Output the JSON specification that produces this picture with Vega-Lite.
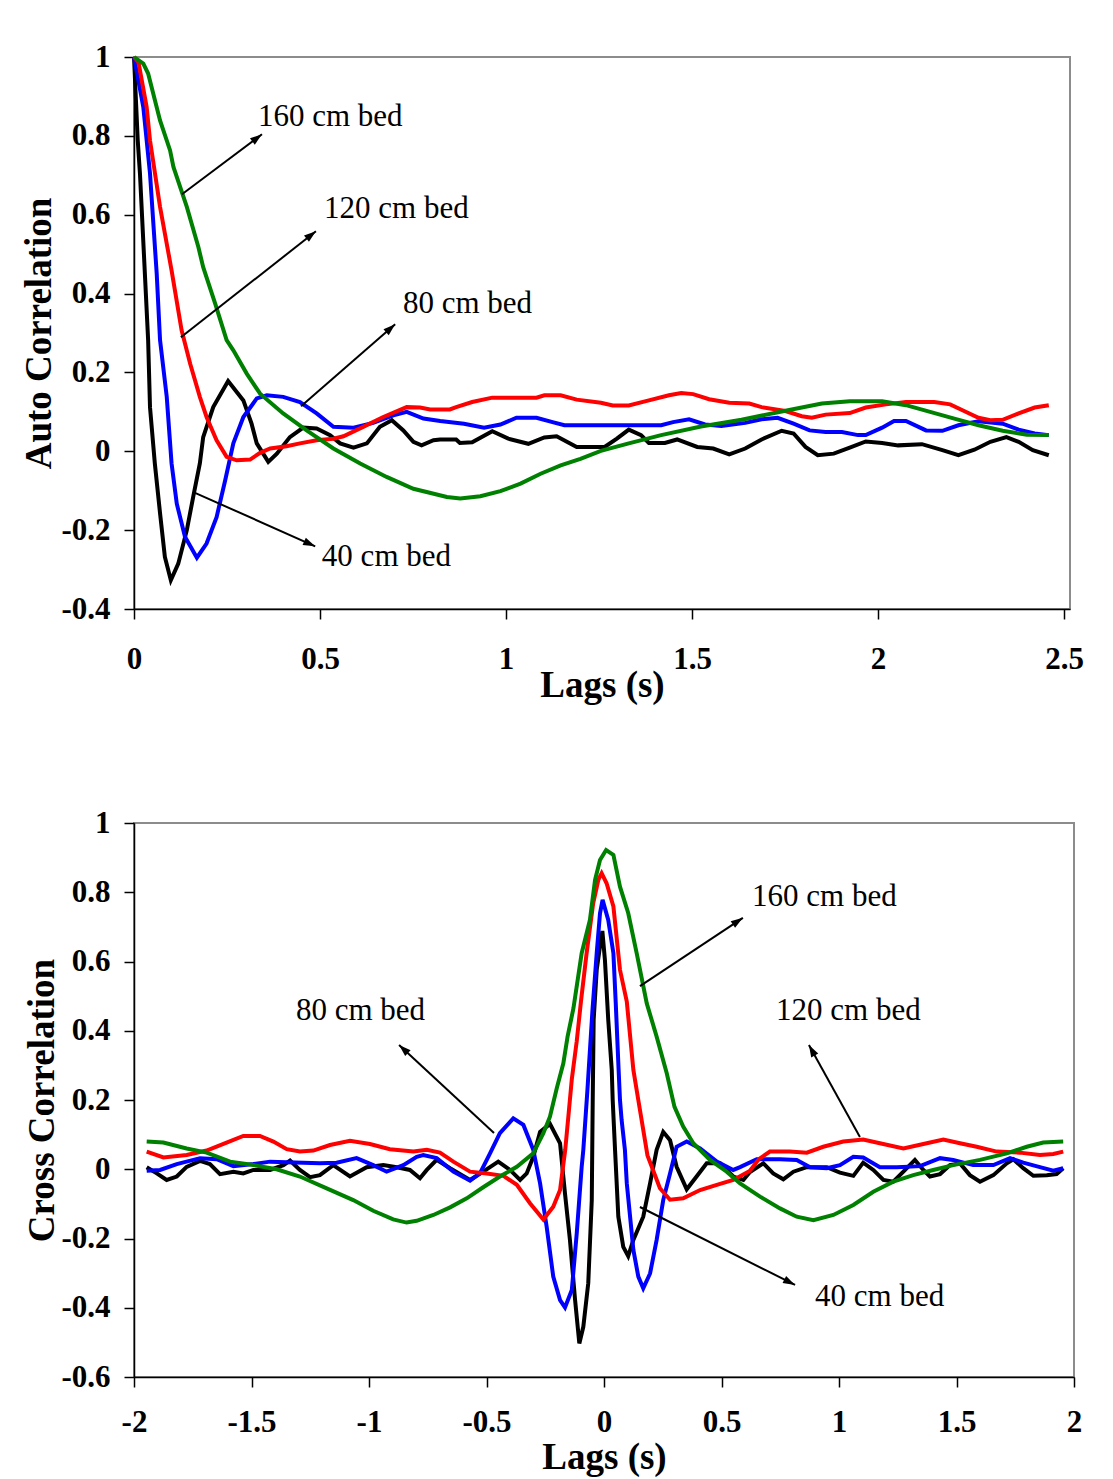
{
  "$schema": "https://vega.github.io/schema/vega-lite/v6.json",
  "background": "white",
  "padding": {"left": 19, "top": 40, "right": 5, "bottom": 2},
  "config": {
    "view": {"stroke": "#8c8c8c", "strokeWidth": 2},
    "axis": {
      "labelFont": "Liberation Serif", "labelFontWeight": "bold", "labelFontSize": 31, "labelColor": "black",
      "titleFont": "Liberation Serif", "titleFontWeight": "bold", "titleFontSize": 37, "titleColor": "black",
      "domainColor": "black", "domainWidth": 1.5, "tickColor": "black", "tickWidth": 1.5, "tickSize": 10, "grid": false,
      "labelOverlap": false, "labelFlush": false
    }
  },
  "datasets": {
    "top": [
      {"bed":"40 cm bed","lag":0,"r":1},{"bed":"40 cm bed","lag":0.010,"r":0.789},{"bed":"40 cm bed","lag":0.016,"r":0.705},{"bed":"40 cm bed","lag":0.038,"r":0.282},{"bed":"40 cm bed","lag":0.043,"r":0.112},{"bed":"40 cm bed","lag":0.056,"r":-0.031},{"bed":"40 cm bed","lag":0.070,"r":-0.157},{"bed":"40 cm bed","lag":0.083,"r":-0.268},{"bed":"40 cm bed","lag":0.099,"r":-0.327},{"bed":"40 cm bed","lag":0.119,"r":-0.285},{"bed":"40 cm bed","lag":0.142,"r":-0.200},{"bed":"40 cm bed","lag":0.159,"r":-0.116},{"bed":"40 cm bed","lag":0.177,"r":-0.031},{"bed":"40 cm bed","lag":0.186,"r":0.036},{"bed":"40 cm bed","lag":0.213,"r":0.112},{"bed":"40 cm bed","lag":0.253,"r":0.178},{"bed":"40 cm bed","lag":0.294,"r":0.129},{"bed":"40 cm bed","lag":0.316,"r":0.070},{"bed":"40 cm bed","lag":0.330,"r":0.020},{"bed":"40 cm bed","lag":0.361,"r":-0.027},{"bed":"40 cm bed","lag":0.384,"r":-0.006},{"bed":"40 cm bed","lag":0.419,"r":0.036},{"bed":"40 cm bed","lag":0.455,"r":0.060},{"bed":"40 cm bed","lag":0.491,"r":0.058},{"bed":"40 cm bed","lag":0.527,"r":0.041},{"bed":"40 cm bed","lag":0.554,"r":0.020},{"bed":"40 cm bed","lag":0.590,"r":0.009},{"bed":"40 cm bed","lag":0.626,"r":0.020},{"bed":"40 cm bed","lag":0.661,"r":0.062},{"bed":"40 cm bed","lag":0.693,"r":0.079},{"bed":"40 cm bed","lag":0.724,"r":0.053},{"bed":"40 cm bed","lag":0.751,"r":0.024},{"bed":"40 cm bed","lag":0.773,"r":0.015},{"bed":"40 cm bed","lag":0.805,"r":0.028},{"bed":"40 cm bed","lag":0.823,"r":0.030},{"bed":"40 cm bed","lag":0.866,"r":0.030},{"bed":"40 cm bed","lag":0.876,"r":0.021},{"bed":"40 cm bed","lag":0.909,"r":0.023},{"bed":"40 cm bed","lag":0.963,"r":0.051},{"bed":"40 cm bed","lag":1.006,"r":0.032},{"bed":"40 cm bed","lag":1.060,"r":0.019},{"bed":"40 cm bed","lag":1.103,"r":0.035},{"bed":"40 cm bed","lag":1.136,"r":0.038},{"bed":"40 cm bed","lag":1.190,"r":0.011},{"bed":"40 cm bed","lag":1.265,"r":0.011},{"bed":"40 cm bed","lag":1.298,"r":0.032},{"bed":"40 cm bed","lag":1.330,"r":0.055},{"bed":"40 cm bed","lag":1.363,"r":0.041},{"bed":"40 cm bed","lag":1.384,"r":0.021},{"bed":"40 cm bed","lag":1.427,"r":0.021},{"bed":"40 cm bed","lag":1.460,"r":0.030},{"bed":"40 cm bed","lag":1.514,"r":0.011},{"bed":"40 cm bed","lag":1.557,"r":0.007},{"bed":"40 cm bed","lag":1.600,"r":-0.008},{"bed":"40 cm bed","lag":1.643,"r":0.007},{"bed":"40 cm bed","lag":1.687,"r":0.030},{"bed":"40 cm bed","lag":1.741,"r":0.052},{"bed":"40 cm bed","lag":1.773,"r":0.045},{"bed":"40 cm bed","lag":1.805,"r":0.011},{"bed":"40 cm bed","lag":1.838,"r":-0.010},{"bed":"40 cm bed","lag":1.881,"r":-0.006},{"bed":"40 cm bed","lag":1.924,"r":0.009},{"bed":"40 cm bed","lag":1.967,"r":0.025},{"bed":"40 cm bed","lag":2.011,"r":0.021},{"bed":"40 cm bed","lag":2.054,"r":0.015},{"bed":"40 cm bed","lag":2.118,"r":0.018},{"bed":"40 cm bed","lag":2.173,"r":0.003},{"bed":"40 cm bed","lag":2.216,"r":-0.010},{"bed":"40 cm bed","lag":2.259,"r":0.004},{"bed":"40 cm bed","lag":2.302,"r":0.024},{"bed":"40 cm bed","lag":2.345,"r":0.036},{"bed":"40 cm bed","lag":2.378,"r":0.024},{"bed":"40 cm bed","lag":2.416,"r":0.003},{"bed":"40 cm bed","lag":2.459,"r":-0.010},
      {"bed":"80 cm bed","lag":0,"r":1},{"bed":"80 cm bed","lag":0.025,"r":0.873},{"bed":"80 cm bed","lag":0.043,"r":0.705},{"bed":"80 cm bed","lag":0.061,"r":0.451},{"bed":"80 cm bed","lag":0.070,"r":0.282},{"bed":"80 cm bed","lag":0.088,"r":0.138},{"bed":"80 cm bed","lag":0.101,"r":-0.031},{"bed":"80 cm bed","lag":0.115,"r":-0.133},{"bed":"80 cm bed","lag":0.137,"r":-0.217},{"bed":"80 cm bed","lag":0.169,"r":-0.270},{"bed":"80 cm bed","lag":0.195,"r":-0.234},{"bed":"80 cm bed","lag":0.222,"r":-0.167},{"bed":"80 cm bed","lag":0.245,"r":-0.074},{"bed":"80 cm bed","lag":0.267,"r":0.020},{"bed":"80 cm bed","lag":0.294,"r":0.087},{"bed":"80 cm bed","lag":0.330,"r":0.134},{"bed":"80 cm bed","lag":0.357,"r":0.142},{"bed":"80 cm bed","lag":0.401,"r":0.138},{"bed":"80 cm bed","lag":0.446,"r":0.125},{"bed":"80 cm bed","lag":0.491,"r":0.096},{"bed":"80 cm bed","lag":0.536,"r":0.062},{"bed":"80 cm bed","lag":0.590,"r":0.060},{"bed":"80 cm bed","lag":0.643,"r":0.072},{"bed":"80 cm bed","lag":0.697,"r":0.091},{"bed":"80 cm bed","lag":0.733,"r":0.100},{"bed":"80 cm bed","lag":0.778,"r":0.083},{"bed":"80 cm bed","lag":0.823,"r":0.077},{"bed":"80 cm bed","lag":0.887,"r":0.070},{"bed":"80 cm bed","lag":0.941,"r":0.060},{"bed":"80 cm bed","lag":0.985,"r":0.068},{"bed":"80 cm bed","lag":1.028,"r":0.085},{"bed":"80 cm bed","lag":1.082,"r":0.085},{"bed":"80 cm bed","lag":1.125,"r":0.074},{"bed":"80 cm bed","lag":1.157,"r":0.066},{"bed":"80 cm bed","lag":1.309,"r":0.066},{"bed":"80 cm bed","lag":1.417,"r":0.066},{"bed":"80 cm bed","lag":1.449,"r":0.074},{"bed":"80 cm bed","lag":1.492,"r":0.081},{"bed":"80 cm bed","lag":1.535,"r":0.068},{"bed":"80 cm bed","lag":1.579,"r":0.064},{"bed":"80 cm bed","lag":1.643,"r":0.072},{"bed":"80 cm bed","lag":1.687,"r":0.081},{"bed":"80 cm bed","lag":1.730,"r":0.085},{"bed":"80 cm bed","lag":1.773,"r":0.070},{"bed":"80 cm bed","lag":1.816,"r":0.053},{"bed":"80 cm bed","lag":1.859,"r":0.049},{"bed":"80 cm bed","lag":1.903,"r":0.049},{"bed":"80 cm bed","lag":1.946,"r":0.041},{"bed":"80 cm bed","lag":1.967,"r":0.041},{"bed":"80 cm bed","lag":2.011,"r":0.060},{"bed":"80 cm bed","lag":2.043,"r":0.077},{"bed":"80 cm bed","lag":2.075,"r":0.077},{"bed":"80 cm bed","lag":2.129,"r":0.053},{"bed":"80 cm bed","lag":2.173,"r":0.052},{"bed":"80 cm bed","lag":2.216,"r":0.066},{"bed":"80 cm bed","lag":2.270,"r":0.076},{"bed":"80 cm bed","lag":2.335,"r":0.070},{"bed":"80 cm bed","lag":2.378,"r":0.055},{"bed":"80 cm bed","lag":2.421,"r":0.045},{"bed":"80 cm bed","lag":2.459,"r":0.041},
      {"bed":"120 cm bed","lag":0,"r":1},{"bed":"120 cm bed","lag":0.012,"r":0.987},{"bed":"120 cm bed","lag":0.034,"r":0.873},{"bed":"120 cm bed","lag":0.043,"r":0.789},{"bed":"120 cm bed","lag":0.070,"r":0.620},{"bed":"120 cm bed","lag":0.101,"r":0.459},{"bed":"120 cm bed","lag":0.128,"r":0.307},{"bed":"120 cm bed","lag":0.151,"r":0.222},{"bed":"120 cm bed","lag":0.177,"r":0.138},{"bed":"120 cm bed","lag":0.195,"r":0.087},{"bed":"120 cm bed","lag":0.222,"r":0.028},{"bed":"120 cm bed","lag":0.249,"r":-0.014},{"bed":"120 cm bed","lag":0.276,"r":-0.023},{"bed":"120 cm bed","lag":0.312,"r":-0.021},{"bed":"120 cm bed","lag":0.339,"r":-0.004},{"bed":"120 cm bed","lag":0.366,"r":0.007},{"bed":"120 cm bed","lag":0.410,"r":0.013},{"bed":"120 cm bed","lag":0.446,"r":0.020},{"bed":"120 cm bed","lag":0.491,"r":0.028},{"bed":"120 cm bed","lag":0.536,"r":0.032},{"bed":"120 cm bed","lag":0.563,"r":0.038},{"bed":"120 cm bed","lag":0.616,"r":0.062},{"bed":"120 cm bed","lag":0.670,"r":0.087},{"bed":"120 cm bed","lag":0.733,"r":0.112},{"bed":"120 cm bed","lag":0.769,"r":0.111},{"bed":"120 cm bed","lag":0.796,"r":0.106},{"bed":"120 cm bed","lag":0.849,"r":0.106},{"bed":"120 cm bed","lag":0.866,"r":0.112},{"bed":"120 cm bed","lag":0.909,"r":0.125},{"bed":"120 cm bed","lag":0.963,"r":0.136},{"bed":"120 cm bed","lag":1.082,"r":0.136},{"bed":"120 cm bed","lag":1.103,"r":0.142},{"bed":"120 cm bed","lag":1.147,"r":0.142},{"bed":"120 cm bed","lag":1.190,"r":0.131},{"bed":"120 cm bed","lag":1.255,"r":0.123},{"bed":"120 cm bed","lag":1.287,"r":0.116},{"bed":"120 cm bed","lag":1.330,"r":0.116},{"bed":"120 cm bed","lag":1.384,"r":0.129},{"bed":"120 cm bed","lag":1.438,"r":0.142},{"bed":"120 cm bed","lag":1.471,"r":0.148},{"bed":"120 cm bed","lag":1.503,"r":0.145},{"bed":"120 cm bed","lag":1.546,"r":0.132},{"bed":"120 cm bed","lag":1.600,"r":0.123},{"bed":"120 cm bed","lag":1.654,"r":0.121},{"bed":"120 cm bed","lag":1.687,"r":0.112},{"bed":"120 cm bed","lag":1.751,"r":0.102},{"bed":"120 cm bed","lag":1.795,"r":0.089},{"bed":"120 cm bed","lag":1.822,"r":0.085},{"bed":"120 cm bed","lag":1.859,"r":0.093},{"bed":"120 cm bed","lag":1.924,"r":0.097},{"bed":"120 cm bed","lag":1.967,"r":0.111},{"bed":"120 cm bed","lag":2.021,"r":0.119},{"bed":"120 cm bed","lag":2.075,"r":0.125},{"bed":"120 cm bed","lag":2.151,"r":0.125},{"bed":"120 cm bed","lag":2.194,"r":0.119},{"bed":"120 cm bed","lag":2.227,"r":0.104},{"bed":"120 cm bed","lag":2.270,"r":0.085},{"bed":"120 cm bed","lag":2.302,"r":0.079},{"bed":"120 cm bed","lag":2.335,"r":0.080},{"bed":"120 cm bed","lag":2.378,"r":0.096},{"bed":"120 cm bed","lag":2.421,"r":0.111},{"bed":"120 cm bed","lag":2.459,"r":0.117},
      {"bed":"160 cm bed","lag":0,"r":1},{"bed":"160 cm bed","lag":0.025,"r":0.983},{"bed":"160 cm bed","lag":0.038,"r":0.958},{"bed":"160 cm bed","lag":0.070,"r":0.839},{"bed":"160 cm bed","lag":0.097,"r":0.763},{"bed":"160 cm bed","lag":0.106,"r":0.721},{"bed":"160 cm bed","lag":0.142,"r":0.620},{"bed":"160 cm bed","lag":0.173,"r":0.518},{"bed":"160 cm bed","lag":0.186,"r":0.467},{"bed":"160 cm bed","lag":0.218,"r":0.375},{"bed":"160 cm bed","lag":0.249,"r":0.282},{"bed":"160 cm bed","lag":0.267,"r":0.256},{"bed":"160 cm bed","lag":0.303,"r":0.197},{"bed":"160 cm bed","lag":0.339,"r":0.146},{"bed":"160 cm bed","lag":0.401,"r":0.096},{"bed":"160 cm bed","lag":0.464,"r":0.053},{"bed":"160 cm bed","lag":0.536,"r":0.007},{"bed":"160 cm bed","lag":0.608,"r":-0.031},{"bed":"160 cm bed","lag":0.679,"r":-0.065},{"bed":"160 cm bed","lag":0.751,"r":-0.095},{"bed":"160 cm bed","lag":0.841,"r":-0.116},{"bed":"160 cm bed","lag":0.877,"r":-0.120},{"bed":"160 cm bed","lag":0.931,"r":-0.114},{"bed":"160 cm bed","lag":0.985,"r":-0.101},{"bed":"160 cm bed","lag":1.039,"r":-0.082},{"bed":"160 cm bed","lag":1.093,"r":-0.057},{"bed":"160 cm bed","lag":1.147,"r":-0.036},{"bed":"160 cm bed","lag":1.200,"r":-0.019},{"bed":"160 cm bed","lag":1.255,"r":0.001},{"bed":"160 cm bed","lag":1.330,"r":0.020},{"bed":"160 cm bed","lag":1.417,"r":0.041},{"bed":"160 cm bed","lag":1.524,"r":0.063},{"bed":"160 cm bed","lag":1.633,"r":0.080},{"bed":"160 cm bed","lag":1.741,"r":0.101},{"bed":"160 cm bed","lag":1.849,"r":0.121},{"bed":"160 cm bed","lag":1.924,"r":0.127},{"bed":"160 cm bed","lag":2.011,"r":0.127},{"bed":"160 cm bed","lag":2.075,"r":0.117},{"bed":"160 cm bed","lag":2.140,"r":0.100},{"bed":"160 cm bed","lag":2.205,"r":0.083},{"bed":"160 cm bed","lag":2.270,"r":0.066},{"bed":"160 cm bed","lag":2.335,"r":0.052},{"bed":"160 cm bed","lag":2.400,"r":0.042},{"bed":"160 cm bed","lag":2.459,"r":0.041}
    ],
    "bottom": [
      {"bed":"40 cm bed","lag":-1.946,"r":0.006},{"bed":"40 cm bed","lag":-1.903,"r":-0.012},{"bed":"40 cm bed","lag":-1.861,"r":-0.031},{"bed":"40 cm bed","lag":-1.818,"r":-0.021},{"bed":"40 cm bed","lag":-1.776,"r":0.007},{"bed":"40 cm bed","lag":-1.719,"r":0.024},{"bed":"40 cm bed","lag":-1.677,"r":0.015},{"bed":"40 cm bed","lag":-1.634,"r":-0.014},{"bed":"40 cm bed","lag":-1.577,"r":-0.007},{"bed":"40 cm bed","lag":-1.535,"r":-0.012},{"bed":"40 cm bed","lag":-1.492,"r":-0.002},{"bed":"40 cm bed","lag":-1.421,"r":-0.002},{"bed":"40 cm bed","lag":-1.364,"r":0.012},{"bed":"40 cm bed","lag":-1.336,"r":0.025},{"bed":"40 cm bed","lag":-1.294,"r":-0.002},{"bed":"40 cm bed","lag":-1.251,"r":-0.023},{"bed":"40 cm bed","lag":-1.209,"r":-0.017},{"bed":"40 cm bed","lag":-1.152,"r":0.012},{"bed":"40 cm bed","lag":-1.081,"r":-0.021},{"bed":"40 cm bed","lag":-1.010,"r":0.006},{"bed":"40 cm bed","lag":-0.939,"r":0.012},{"bed":"40 cm bed","lag":-0.882,"r":0.006},{"bed":"40 cm bed","lag":-0.826,"r":-0.002},{"bed":"40 cm bed","lag":-0.783,"r":-0.026},{"bed":"40 cm bed","lag":-0.754,"r":-0.002},{"bed":"40 cm bed","lag":-0.712,"r":0.027},{"bed":"40 cm bed","lag":-0.655,"r":0.003},{"bed":"40 cm bed","lag":-0.570,"r":-0.031},{"bed":"40 cm bed","lag":-0.514,"r":-0.007},{"bed":"40 cm bed","lag":-0.450,"r":0.022},{"bed":"40 cm bed","lag":-0.400,"r":-0.002},{"bed":"40 cm bed","lag":-0.357,"r":-0.031},{"bed":"40 cm bed","lag":-0.329,"r":-0.012},{"bed":"40 cm bed","lag":-0.301,"r":0.036},{"bed":"40 cm bed","lag":-0.272,"r":0.108},{"bed":"40 cm bed","lag":-0.230,"r":0.131},{"bed":"40 cm bed","lag":-0.187,"r":0.075},{"bed":"40 cm bed","lag":-0.166,"r":-0.070},{"bed":"40 cm bed","lag":-0.145,"r":-0.204},{"bed":"40 cm bed","lag":-0.123,"r":-0.378},{"bed":"40 cm bed","lag":-0.105,"r":-0.503},{"bed":"40 cm bed","lag":-0.088,"r":-0.455},{"bed":"40 cm bed","lag":-0.067,"r":-0.329},{"bed":"40 cm bed","lag":-0.052,"r":-0.089},{"bed":"40 cm bed","lag":-0.048,"r":0.200},{"bed":"40 cm bed","lag":-0.044,"r":0.432},{"bed":"40 cm bed","lag":-0.031,"r":0.576},{"bed":"40 cm bed","lag":-0.017,"r":0.644},{"bed":"40 cm bed","lag":-0.007,"r":0.688},{"bed":"40 cm bed","lag":0.004,"r":0.604},{"bed":"40 cm bed","lag":0.018,"r":0.432},{"bed":"40 cm bed","lag":0.033,"r":0.287},{"bed":"40 cm bed","lag":0.037,"r":0.200},{"bed":"40 cm bed","lag":0.041,"r":0.142},{"bed":"40 cm bed","lag":0.047,"r":0.056},{"bed":"40 cm bed","lag":0.061,"r":-0.137},{"bed":"40 cm bed","lag":0.082,"r":-0.224},{"bed":"40 cm bed","lag":0.103,"r":-0.251},{"bed":"40 cm bed","lag":0.125,"r":-0.204},{"bed":"40 cm bed","lag":0.167,"r":-0.137},{"bed":"40 cm bed","lag":0.196,"r":-0.041},{"bed":"40 cm bed","lag":0.224,"r":0.056},{"bed":"40 cm bed","lag":0.252,"r":0.108},{"bed":"40 cm bed","lag":0.281,"r":0.084},{"bed":"40 cm bed","lag":0.309,"r":0.007},{"bed":"40 cm bed","lag":0.352,"r":-0.058},{"bed":"40 cm bed","lag":0.394,"r":-0.021},{"bed":"40 cm bed","lag":0.437,"r":0.017},{"bed":"40 cm bed","lag":0.494,"r":0.017},{"bed":"40 cm bed","lag":0.550,"r":-0.021},{"bed":"40 cm bed","lag":0.593,"r":-0.031},{"bed":"40 cm bed","lag":0.621,"r":-0.008},{"bed":"40 cm bed","lag":0.678,"r":0.017},{"bed":"40 cm bed","lag":0.720,"r":-0.012},{"bed":"40 cm bed","lag":0.763,"r":-0.029},{"bed":"40 cm bed","lag":0.806,"r":-0.007},{"bed":"40 cm bed","lag":0.863,"r":0.006},{"bed":"40 cm bed","lag":0.948,"r":0.006},{"bed":"40 cm bed","lag":1.004,"r":-0.010},{"bed":"40 cm bed","lag":1.061,"r":-0.019},{"bed":"40 cm bed","lag":1.103,"r":0.019},{"bed":"40 cm bed","lag":1.146,"r":-0.002},{"bed":"40 cm bed","lag":1.189,"r":-0.031},{"bed":"40 cm bed","lag":1.231,"r":-0.036},{"bed":"40 cm bed","lag":1.274,"r":-0.007},{"bed":"40 cm bed","lag":1.323,"r":0.027},{"bed":"40 cm bed","lag":1.359,"r":-0.002},{"bed":"40 cm bed","lag":1.387,"r":-0.021},{"bed":"40 cm bed","lag":1.430,"r":-0.014},{"bed":"40 cm bed","lag":1.472,"r":0.012},{"bed":"40 cm bed","lag":1.515,"r":0.017},{"bed":"40 cm bed","lag":1.557,"r":-0.017},{"bed":"40 cm bed","lag":1.600,"r":-0.036},{"bed":"40 cm bed","lag":1.657,"r":-0.017},{"bed":"40 cm bed","lag":1.714,"r":0.017},{"bed":"40 cm bed","lag":1.742,"r":0.029},{"bed":"40 cm bed","lag":1.784,"r":0.003},{"bed":"40 cm bed","lag":1.827,"r":-0.019},{"bed":"40 cm bed","lag":1.884,"r":-0.017},{"bed":"40 cm bed","lag":1.926,"r":-0.014},{"bed":"40 cm bed","lag":1.954,"r":0.003},
      {"bed":"80 cm bed","lag":-1.946,"r":-0.004},{"bed":"80 cm bed","lag":-1.889,"r":-0.002},{"bed":"80 cm bed","lag":-1.818,"r":0.015},{"bed":"80 cm bed","lag":-1.719,"r":0.032},{"bed":"80 cm bed","lag":-1.648,"r":0.029},{"bed":"80 cm bed","lag":-1.577,"r":0.009},{"bed":"80 cm bed","lag":-1.492,"r":0.015},{"bed":"80 cm bed","lag":-1.421,"r":0.022},{"bed":"80 cm bed","lag":-1.209,"r":0.017},{"bed":"80 cm bed","lag":-1.138,"r":0.019},{"bed":"80 cm bed","lag":-1.053,"r":0.032},{"bed":"80 cm bed","lag":-0.982,"r":0.012},{"bed":"80 cm bed","lag":-0.925,"r":-0.007},{"bed":"80 cm bed","lag":-0.854,"r":0.012},{"bed":"80 cm bed","lag":-0.797,"r":0.036},{"bed":"80 cm bed","lag":-0.769,"r":0.041},{"bed":"80 cm bed","lag":-0.712,"r":0.032},{"bed":"80 cm bed","lag":-0.641,"r":-0.007},{"bed":"80 cm bed","lag":-0.570,"r":-0.033},{"bed":"80 cm bed","lag":-0.528,"r":-0.012},{"bed":"80 cm bed","lag":-0.485,"r":0.046},{"bed":"80 cm bed","lag":-0.443,"r":0.104},{"bed":"80 cm bed","lag":-0.386,"r":0.147},{"bed":"80 cm bed","lag":-0.343,"r":0.128},{"bed":"80 cm bed","lag":-0.301,"r":0.056},{"bed":"80 cm bed","lag":-0.272,"r":-0.041},{"bed":"80 cm bed","lag":-0.244,"r":-0.166},{"bed":"80 cm bed","lag":-0.216,"r":-0.310},{"bed":"80 cm bed","lag":-0.187,"r":-0.378},{"bed":"80 cm bed","lag":-0.166,"r":-0.399},{"bed":"80 cm bed","lag":-0.137,"r":-0.349},{"bed":"80 cm bed","lag":-0.116,"r":-0.185},{"bed":"80 cm bed","lag":-0.095,"r":0.007},{"bed":"80 cm bed","lag":-0.088,"r":0.056},{"bed":"80 cm bed","lag":-0.071,"r":0.224},{"bed":"80 cm bed","lag":-0.049,"r":0.460},{"bed":"80 cm bed","lag":-0.031,"r":0.624},{"bed":"80 cm bed","lag":-0.017,"r":0.739},{"bed":"80 cm bed","lag":-0.006,"r":0.778},{"bed":"80 cm bed","lag":0.018,"r":0.720},{"bed":"80 cm bed","lag":0.040,"r":0.624},{"bed":"80 cm bed","lag":0.050,"r":0.480},{"bed":"80 cm bed","lag":0.062,"r":0.290},{"bed":"80 cm bed","lag":0.068,"r":0.200},{"bed":"80 cm bed","lag":0.075,"r":0.142},{"bed":"80 cm bed","lag":0.089,"r":0.056},{"bed":"80 cm bed","lag":0.097,"r":-0.041},{"bed":"80 cm bed","lag":0.125,"r":-0.233},{"bed":"80 cm bed","lag":0.146,"r":-0.310},{"bed":"80 cm bed","lag":0.167,"r":-0.344},{"bed":"80 cm bed","lag":0.196,"r":-0.301},{"bed":"80 cm bed","lag":0.224,"r":-0.204},{"bed":"80 cm bed","lag":0.252,"r":-0.089},{"bed":"80 cm bed","lag":0.281,"r":-0.012},{"bed":"80 cm bed","lag":0.309,"r":0.065},{"bed":"80 cm bed","lag":0.352,"r":0.080},{"bed":"80 cm bed","lag":0.409,"r":0.060},{"bed":"80 cm bed","lag":0.480,"r":0.022},{"bed":"80 cm bed","lag":0.550,"r":-0.002},{"bed":"80 cm bed","lag":0.579,"r":0.006},{"bed":"80 cm bed","lag":0.650,"r":0.029},{"bed":"80 cm bed","lag":0.749,"r":0.029},{"bed":"80 cm bed","lag":0.820,"r":0.027},{"bed":"80 cm bed","lag":0.877,"r":0.006},{"bed":"80 cm bed","lag":0.948,"r":0.003},{"bed":"80 cm bed","lag":1.004,"r":0.012},{"bed":"80 cm bed","lag":1.061,"r":0.036},{"bed":"80 cm bed","lag":1.103,"r":0.034},{"bed":"80 cm bed","lag":1.174,"r":0.006},{"bed":"80 cm bed","lag":1.246,"r":0.006},{"bed":"80 cm bed","lag":1.345,"r":0.009},{"bed":"80 cm bed","lag":1.430,"r":0.032},{"bed":"80 cm bed","lag":1.486,"r":0.027},{"bed":"80 cm bed","lag":1.571,"r":0.012},{"bed":"80 cm bed","lag":1.657,"r":0.012},{"bed":"80 cm bed","lag":1.728,"r":0.032},{"bed":"80 cm bed","lag":1.784,"r":0.019},{"bed":"80 cm bed","lag":1.855,"r":0.006},{"bed":"80 cm bed","lag":1.912,"r":-0.004},{"bed":"80 cm bed","lag":1.954,"r":0.003},
      {"bed":"120 cm bed","lag":-1.946,"r":0.051},{"bed":"120 cm bed","lag":-1.875,"r":0.034},{"bed":"120 cm bed","lag":-1.776,"r":0.041},{"bed":"120 cm bed","lag":-1.691,"r":0.054},{"bed":"120 cm bed","lag":-1.606,"r":0.077},{"bed":"120 cm bed","lag":-1.535,"r":0.096},{"bed":"120 cm bed","lag":-1.464,"r":0.096},{"bed":"120 cm bed","lag":-1.407,"r":0.080},{"bed":"120 cm bed","lag":-1.350,"r":0.058},{"bed":"120 cm bed","lag":-1.294,"r":0.051},{"bed":"120 cm bed","lag":-1.237,"r":0.054},{"bed":"120 cm bed","lag":-1.166,"r":0.070},{"bed":"120 cm bed","lag":-1.081,"r":0.082},{"bed":"120 cm bed","lag":-0.996,"r":0.073},{"bed":"120 cm bed","lag":-0.911,"r":0.058},{"bed":"120 cm bed","lag":-0.811,"r":0.051},{"bed":"120 cm bed","lag":-0.754,"r":0.056},{"bed":"120 cm bed","lag":-0.698,"r":0.048},{"bed":"120 cm bed","lag":-0.641,"r":0.022},{"bed":"120 cm bed","lag":-0.570,"r":-0.007},{"bed":"120 cm bed","lag":-0.499,"r":-0.012},{"bed":"120 cm bed","lag":-0.428,"r":-0.019},{"bed":"120 cm bed","lag":-0.371,"r":-0.045},{"bed":"120 cm bed","lag":-0.315,"r":-0.098},{"bed":"120 cm bed","lag":-0.258,"r":-0.145},{"bed":"120 cm bed","lag":-0.216,"r":-0.108},{"bed":"120 cm bed","lag":-0.187,"r":-0.060},{"bed":"120 cm bed","lag":-0.165,"r":0.056},{"bed":"120 cm bed","lag":-0.152,"r":0.150},{"bed":"120 cm bed","lag":-0.137,"r":0.260},{"bed":"120 cm bed","lag":-0.116,"r":0.370},{"bed":"120 cm bed","lag":-0.098,"r":0.485},{"bed":"120 cm bed","lag":-0.074,"r":0.624},{"bed":"120 cm bed","lag":-0.046,"r":0.768},{"bed":"120 cm bed","lag":-0.024,"r":0.836},{"bed":"120 cm bed","lag":-0.010,"r":0.855},{"bed":"120 cm bed","lag":0.011,"r":0.826},{"bed":"120 cm bed","lag":0.040,"r":0.759},{"bed":"120 cm bed","lag":0.068,"r":0.576},{"bed":"120 cm bed","lag":0.097,"r":0.484},{"bed":"120 cm bed","lag":0.125,"r":0.287},{"bed":"120 cm bed","lag":0.146,"r":0.200},{"bed":"120 cm bed","lag":0.185,"r":0.040},{"bed":"120 cm bed","lag":0.238,"r":-0.055},{"bed":"120 cm bed","lag":0.281,"r":-0.088},{"bed":"120 cm bed","lag":0.337,"r":-0.084},{"bed":"120 cm bed","lag":0.409,"r":-0.060},{"bed":"120 cm bed","lag":0.480,"r":-0.045},{"bed":"120 cm bed","lag":0.550,"r":-0.031},{"bed":"120 cm bed","lag":0.620,"r":-0.005},{"bed":"120 cm bed","lag":0.660,"r":0.030},{"bed":"120 cm bed","lag":0.706,"r":0.051},{"bed":"120 cm bed","lag":0.791,"r":0.051},{"bed":"120 cm bed","lag":0.863,"r":0.048},{"bed":"120 cm bed","lag":0.933,"r":0.065},{"bed":"120 cm bed","lag":1.018,"r":0.080},{"bed":"120 cm bed","lag":1.103,"r":0.086},{"bed":"120 cm bed","lag":1.174,"r":0.075},{"bed":"120 cm bed","lag":1.274,"r":0.060},{"bed":"120 cm bed","lag":1.359,"r":0.073},{"bed":"120 cm bed","lag":1.444,"r":0.086},{"bed":"120 cm bed","lag":1.515,"r":0.075},{"bed":"120 cm bed","lag":1.586,"r":0.065},{"bed":"120 cm bed","lag":1.671,"r":0.051},{"bed":"120 cm bed","lag":1.770,"r":0.048},{"bed":"120 cm bed","lag":1.855,"r":0.041},{"bed":"120 cm bed","lag":1.912,"r":0.044},{"bed":"120 cm bed","lag":1.954,"r":0.051},
      {"bed":"160 cm bed","lag":-1.946,"r":0.080},{"bed":"160 cm bed","lag":-1.875,"r":0.077},{"bed":"160 cm bed","lag":-1.776,"r":0.060},{"bed":"160 cm bed","lag":-1.691,"r":0.048},{"bed":"160 cm bed","lag":-1.591,"r":0.022},{"bed":"160 cm bed","lag":-1.492,"r":0.012},{"bed":"160 cm bed","lag":-1.393,"r":0.0},{"bed":"160 cm bed","lag":-1.294,"r":-0.021},{"bed":"160 cm bed","lag":-1.180,"r":-0.055},{"bed":"160 cm bed","lag":-1.067,"r":-0.089},{"bed":"160 cm bed","lag":-0.982,"r":-0.120},{"bed":"160 cm bed","lag":-0.897,"r":-0.145},{"bed":"160 cm bed","lag":-0.840,"r":-0.154},{"bed":"160 cm bed","lag":-0.797,"r":-0.149},{"bed":"160 cm bed","lag":-0.726,"r":-0.132},{"bed":"160 cm bed","lag":-0.655,"r":-0.110},{"bed":"160 cm bed","lag":-0.584,"r":-0.084},{"bed":"160 cm bed","lag":-0.514,"r":-0.052},{"bed":"160 cm bed","lag":-0.443,"r":-0.021},{"bed":"160 cm bed","lag":-0.371,"r":0.007},{"bed":"160 cm bed","lag":-0.301,"r":0.046},{"bed":"160 cm bed","lag":-0.258,"r":0.104},{"bed":"160 cm bed","lag":-0.230,"r":0.152},{"bed":"160 cm bed","lag":-0.201,"r":0.234},{"bed":"160 cm bed","lag":-0.173,"r":0.306},{"bed":"160 cm bed","lag":-0.155,"r":0.383},{"bed":"160 cm bed","lag":-0.130,"r":0.465},{"bed":"160 cm bed","lag":-0.095,"r":0.624},{"bed":"160 cm bed","lag":-0.060,"r":0.720},{"bed":"160 cm bed","lag":-0.038,"r":0.836},{"bed":"160 cm bed","lag":-0.017,"r":0.893},{"bed":"160 cm bed","lag":0.009,"r":0.922},{"bed":"160 cm bed","lag":0.040,"r":0.908},{"bed":"160 cm bed","lag":0.068,"r":0.816},{"bed":"160 cm bed","lag":0.103,"r":0.740},{"bed":"160 cm bed","lag":0.139,"r":0.624},{"bed":"160 cm bed","lag":0.182,"r":0.479},{"bed":"160 cm bed","lag":0.224,"r":0.383},{"bed":"160 cm bed","lag":0.267,"r":0.277},{"bed":"160 cm bed","lag":0.300,"r":0.180},{"bed":"160 cm bed","lag":0.337,"r":0.123},{"bed":"160 cm bed","lag":0.380,"r":0.075},{"bed":"160 cm bed","lag":0.451,"r":0.027},{"bed":"160 cm bed","lag":0.522,"r":-0.007},{"bed":"160 cm bed","lag":0.579,"r":-0.041},{"bed":"160 cm bed","lag":0.664,"r":-0.079},{"bed":"160 cm bed","lag":0.749,"r":-0.113},{"bed":"160 cm bed","lag":0.820,"r":-0.137},{"bed":"160 cm bed","lag":0.891,"r":-0.147},{"bed":"160 cm bed","lag":0.976,"r":-0.132},{"bed":"160 cm bed","lag":1.061,"r":-0.103},{"bed":"160 cm bed","lag":1.146,"r":-0.065},{"bed":"160 cm bed","lag":1.231,"r":-0.036},{"bed":"160 cm bed","lag":1.316,"r":-0.017},{"bed":"160 cm bed","lag":1.401,"r":-0.002},{"bed":"160 cm bed","lag":1.486,"r":0.012},{"bed":"160 cm bed","lag":1.600,"r":0.027},{"bed":"160 cm bed","lag":1.714,"r":0.046},{"bed":"160 cm bed","lag":1.799,"r":0.065},{"bed":"160 cm bed","lag":1.869,"r":0.077},{"bed":"160 cm bed","lag":1.954,"r":0.080}
    ],
    "topLabels": [
      {"label":"160 cm bed","lag":0.333,"r":0.847},
      {"label":"120 cm bed","lag":0.511,"r":0.614},
      {"label":"80 cm bed","lag":0.723,"r":0.373},
      {"label":"40 cm bed","lag":0.505,"r":-0.269}
    ],
    "topArrows": [
      {"lag":0.129,"r":0.652,"lag2":0.344,"r2":0.804},
      {"lag":0.126,"r":0.289,"lag2":0.489,"r2":0.558},
      {"lag":0.449,"r":0.114,"lag2":0.702,"r2":0.322},
      {"lag":0.161,"r":-0.104,"lag2":0.487,"r2":-0.241}
    ],
    "bottomLabels": [
      {"label":"160 cm bed","lag":0.630,"r":0.786},
      {"label":"120 cm bed","lag":0.732,"r":0.457},
      {"label":"80 cm bed","lag":-1.311,"r":0.457},
      {"label":"40 cm bed","lag":0.898,"r":-0.369}
    ],
    "bottomArrows": [
      {"lag":0.153,"r":0.529,"lag2":0.591,"r2":0.726},
      {"lag":1.089,"r":0.093,"lag2":0.872,"r2":0.359},
      {"lag":-0.468,"r":0.105,"lag2":-0.872,"r2":0.359},
      {"lag":0.153,"r":-0.109,"lag2":0.813,"r2":-0.334}
    ]
  },
  "vconcat": [
    {
      "width": 936,
      "height": 552,
      "encoding": {
        "x": {"field": "lag", "type": "quantitative",
          "scale": {"domain": [0, 2.516], "nice": false, "zero": false},
          "axis": {"values": [0, 0.5, 1, 1.5, 2, 2.5], "labelExpr": "'' + datum.value", "title": "Lags (s)",
            "labelBaseline": "middle", "labelPadding": 40,
            "titleX": 468, "titleY": 76, "titleAlign": "center", "titleBaseline": "middle"}},
        "y": {"field": "r", "type": "quantitative",
          "scale": {"domain": [-0.4, 1], "nice": false, "zero": false},
          "axis": {"values": [-0.4, -0.2, 0, 0.2, 0.4, 0.6, 0.8, 1], "labelExpr": "'' + datum.value", "title": "Auto Correlation",
            "labelPadding": 14,
            "titleX": -95, "titleY": 276, "titleAlign": "center", "titleBaseline": "middle"}}
      },
      "layer": [
        {
          "data": {"name": "top"},
          "mark": {"type": "line", "strokeWidth": 4},
          "encoding": {
            "color": {"field": "bed", "type": "nominal",
              "scale": {"domain": ["40 cm bed", "80 cm bed", "120 cm bed", "160 cm bed"], "range": ["#000000", "#0000ff", "#ff0000", "#008000"]},
              "legend": null}
          }
        },
        {
          "data": {"name": "topArrows"},
          "mark": {"type": "rule", "strokeWidth": 2, "color": "black"},
          "encoding": {"x2": {"field": "lag2"}, "y2": {"field": "r2"}}
        },
        {
          "data": {"name": "topArrows"},
          "transform": [{"calculate": "atan2((datum.lag2 - datum.lag) * 372, (datum.r2 - datum.r) * 394.3) * 180 / PI", "as": "angle"}],
          "mark": {"type": "point", "shape": "M0,0L0.4,1.2L-0.4,1.2Z", "filled": true, "size": 400, "color": "black", "opacity": 1},
          "encoding": {
            "x": {"field": "lag2", "type": "quantitative"},
            "y": {"field": "r2", "type": "quantitative"},
            "angle": {"field": "angle", "type": "quantitative", "scale": null}
          }
        },
        {
          "data": {"name": "topLabels"},
          "mark": {"type": "text", "align": "left", "baseline": "middle", "font": "Liberation Serif", "fontSize": 31, "color": "black"},
          "encoding": {"text": {"field": "label"}}
        }
      ]
    },
    {
      "width": 940,
      "height": 554,
      "encoding": {
        "x": {"field": "lag", "type": "quantitative",
          "scale": {"domain": [-2, 2], "nice": false, "zero": false},
          "axis": {"values": [-2, -1.5, -1, -0.5, 0, 0.5, 1, 1.5, 2], "labelExpr": "'' + datum.value", "title": "Lags (s)",
            "labelBaseline": "middle", "labelPadding": 35,
            "titleX": 470, "titleY": 80, "titleAlign": "center", "titleBaseline": "middle"}},
        "y": {"field": "r", "type": "quantitative",
          "scale": {"domain": [-0.6, 1], "nice": false, "zero": false},
          "axis": {"values": [-0.6, -0.4, -0.2, 0, 0.2, 0.4, 0.6, 0.8, 1], "labelExpr": "'' + datum.value", "title": "Cross Correlation",
            "labelPadding": 14,
            "titleX": -92, "titleY": 277, "titleAlign": "center", "titleBaseline": "middle"}}
      },
      "layer": [
        {
          "data": {"name": "bottom"},
          "mark": {"type": "line", "strokeWidth": 4},
          "encoding": {
            "color": {"field": "bed", "type": "nominal",
              "scale": {"domain": ["40 cm bed", "80 cm bed", "120 cm bed", "160 cm bed"], "range": ["#000000", "#0000ff", "#ff0000", "#008000"]},
              "legend": null}
          }
        },
        {
          "data": {"name": "bottomArrows"},
          "mark": {"type": "rule", "strokeWidth": 2, "color": "black"},
          "encoding": {"x2": {"field": "lag2"}, "y2": {"field": "r2"}}
        },
        {
          "data": {"name": "bottomArrows"},
          "transform": [{"calculate": "atan2((datum.lag2 - datum.lag) * 235, (datum.r2 - datum.r) * 346.25) * 180 / PI", "as": "angle"}],
          "mark": {"type": "point", "shape": "M0,0L0.4,1.2L-0.4,1.2Z", "filled": true, "size": 400, "color": "black", "opacity": 1},
          "encoding": {
            "x": {"field": "lag2", "type": "quantitative"},
            "y": {"field": "r2", "type": "quantitative"},
            "angle": {"field": "angle", "type": "quantitative", "scale": null}
          }
        },
        {
          "data": {"name": "bottomLabels"},
          "mark": {"type": "text", "align": "left", "baseline": "middle", "font": "Liberation Serif", "fontSize": 31, "color": "black"},
          "encoding": {"text": {"field": "label"}}
        }
      ]
    }
  ],
  "spacing": 214,
  "bounds": "flush",
  "resolve": {"scale": {"color": "shared"}}
}
